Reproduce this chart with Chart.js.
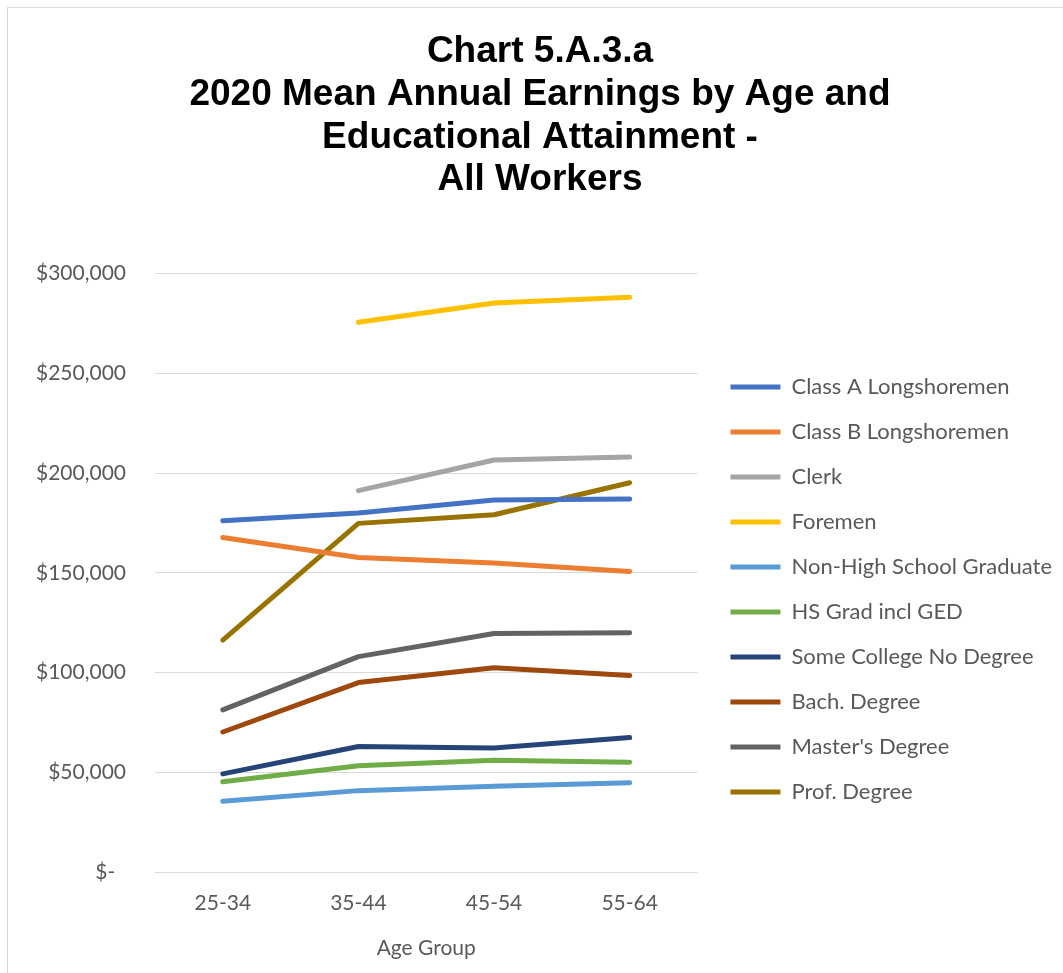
<!DOCTYPE html>
<html>
<head>
<meta charset="utf-8">
<title>Chart 5.A.3.a</title>
<script src="https://cdn.jsdelivr.net/npm/chart.js@4.4.1/dist/chart.umd.min.js"></script>
<style>
  html, body { margin: 0; padding: 0; background: #fff; overflow: hidden; }
  #frame {
    position: absolute; left: 7px; top: 7px;
    width: 1100px; height: 1000px;
    border-left: 1px solid #d9d9d9; border-top: 1px solid #d9d9d9;
  }
  #earningsChart { position: absolute; left: 0; top: 0; }
</style>
</head>
<body>
<div id="frame"><canvas id="earningsChart" width="1055" height="965"></canvas></div>
<script>
  'use strict';

  const ageGroups = ['25-34', '35-44', '45-54', '55-64'];

  const classA = [176100, 180000, 186500, 187000];
  const classB = [167700, 157700, 154900, 150700];
  const clerk = [null, 191200, 206600, 208100];
  const foremen = [null, 275600, 285300, 288200];
  const nonHighSchool = [35500, 40800, 43000, 44800];
  const hsGrad = [45200, 53300, 56000, 55000];
  const someCollege = [49200, 62900, 62200, 67400];
  const bachelors = [70200, 95000, 102400, 98500];
  const masters = [81300, 108000, 119600, 119900];
  const professional = [116300, 174800, 179100, 195200];

  const seriesNames = [
    'Class A Longshoremen', 'Class B Longshoremen', 'Clerk', 'Foremen',
    'Non-High School Graduate', 'HS Grad incl GED', 'Some College No Degree',
    'Bach. Degree', "Master's Degree", 'Prof. Degree'
  ];
  const seriesValues = [classA, classB, clerk, foremen, nonHighSchool, hsGrad,
    someCollege, bachelors, masters, professional];
  const seriesColors = ['#4472C4', '#ED7D31', '#A5A5A5', '#FFC000', '#5B9BD5',
    '#70AD47', '#264478', '#9E480E', '#636363', '#997300'];

  const labelFont = 'Lato, "Open Sans", sans-serif';
  const gray = '#595959';

  function formatDollars(v) {
    if (v === 0) return '$-  ';
    return '$' + v.toLocaleString('en-US');
  }

  const datasets = seriesNames.map(function (name, i) {
    return {
      label: name,
      data: seriesValues[i],
      borderColor: seriesColors[i],
      backgroundColor: seriesColors[i],
      borderWidth: 5,
      borderCapStyle: 'round',
      borderJoinStyle: 'round',
      pointRadius: 0,
      pointHoverRadius: 0,
      tension: 0,
      fill: false
    };
  });

  new Chart(document.getElementById('earningsChart'), {
    type: 'line',
    data: { labels: ageGroups, datasets: datasets },
    options: {
      responsive: false,
      animation: false,
      events: [],
      layout: { padding: { left: 10, right: 1, top: 0, bottom: 0 } },
      plugins: {
        title: {
          display: true,
          text: ['Chart 5.A.3.a', '2020 Mean Annual Earnings by Age and', 'Educational Attainment -', 'All Workers'],
          color: '#000',
          font: { family: '"Liberation Sans", Arial, sans-serif', weight: 'bold', size: 37, lineHeight: 1.16 },
          padding: { top: 22, bottom: 72 }
        },
        legend: {
          position: 'right',
          align: 'start',
          maxWidth: 400,
          // blank title pushes the entries down beside the plot
          title: { display: true, text: ' ', font: { size: 10, lineHeight: 1 }, padding: { top: 325, bottom: 0 } },
          labels: {
            boxWidth: 50,
            boxHeight: 5,
            padding: 33,
            color: gray,
            font: { family: labelFont, size: 22, lineHeight: 12 / 22 },
            // array text lets the row spacing follow the font lineHeight
            generateLabels: function (chart) {
              return Chart.defaults.plugins.legend.labels.generateLabels(chart).map(function (item) {
                item.text = [item.text];
                item.lineWidth = 0;
                return item;
              });
            }
          }
        },
        tooltip: { enabled: false }
      },
      scales: {
        x: {
          offset: true,
          grid: { display: false, drawTicks: false },
          border: { display: false },
          ticks: { color: gray, padding: 19, font: { family: labelFont, size: 21 } },
          title: {
            display: true, text: 'Age Group', color: gray,
            font: { family: labelFont, size: 21 },
            padding: { top: 20, bottom: 12 }
          },
          afterFit: function (scale) { scale.height = 101; }
        },
        y: {
          min: 0,
          max: 300000,
          grid: { color: '#d9d9d9', lineWidth: 1, drawTicks: false },
          border: { display: false },
          ticks: {
            stepSize: 50000,
            padding: 29,
            color: gray,
            font: { family: labelFont, size: 21 },
            callback: function (value) { return formatDollars(value); }
          },
          afterFit: function (scale) { scale.width = 137; }
        }
      }
    }
  });
</script>
</body>
</html>
